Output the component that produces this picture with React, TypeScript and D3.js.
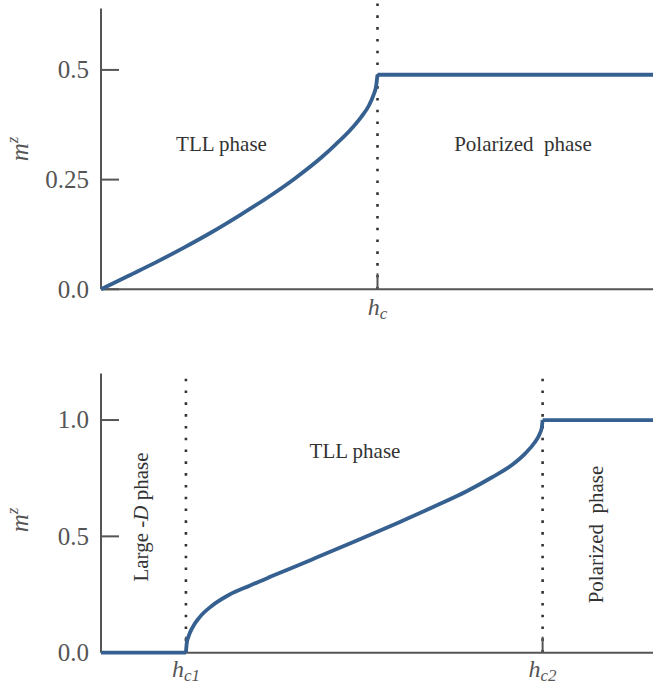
import * as d3 from "d3";
import React from "react";

// top panel: one critical field
const topH = [0, 0.1, 0.2, 0.3, 0.4, 0.5, 0.6, 0.7, 0.8, 0.85, 0.9, 0.94, 0.97, 0.985, 0.995, 1.0];
const topM = [0, 0.031, 0.062, 0.095, 0.13, 0.168, 0.208, 0.252, 0.302, 0.331, 0.362, 0.392, 0.42, 0.442, 0.463, 0.489];
const topHc = 1.0;
const topSat = 0.489;
const topXMax = 2.0;
const topYTicks = [0, 0.25, 0.5];
const topYTickLabels = ["0.0", "0.25", "0.5"];

// bottom panel: large-D, two critical fields
const botH = [1.0, 1.01, 1.03, 1.08, 1.16, 1.3, 1.5, 1.75, 2.0, 2.5, 3.0, 3.5, 4.0, 4.3, 4.6, 4.85, 5.0, 5.1, 5.16, 5.19, 5.2];
const botM = [0, 0.041, 0.069, 0.11, 0.152, 0.2, 0.247, 0.288, 0.327, 0.403, 0.48, 0.559, 0.641, 0.693, 0.753, 0.81, 0.858, 0.9, 0.936, 0.967, 1.0];
const botHc1 = 1.0;
const botHc2 = 5.2;
const botSat = 1.0;
const botXMax = 6.5;
const botYTicks = [0, 0.5, 1.0];
const botYTickLabels = ["0.0", "0.5", "1.0"];

const LINE = "#36608f";
const AXIS = "#555";
const TEXT = "#333";
const FONT = '"Liberation Serif", "DejaVu Serif", serif';

type Pt = [number, number];

const zip = (xs: number[], ys: number[]): Pt[] => xs.map((x, i) => [x, ys[i]]);

const HLabel: React.FC<{ x: number; y: number; sub: string }> = ({ x, y, sub }) => (
  <text x={x} y={y} textAnchor="middle" fontSize={24} fill={AXIS} style={{ fontFamily: FONT }}>
    <tspan fontStyle="italic">h</tspan>
    <tspan fontStyle="italic" fontSize={17} dy={4}>{sub}</tspan>
  </text>
);

const MLabel: React.FC<{ x: number; y: number }> = ({ x, y }) => (
  <text transform={`translate(${x},${y}) rotate(-90)`} textAnchor="middle" fontSize={25} fill={AXIS} style={{ fontFamily: FONT }}>
    <tspan fontStyle="italic">m</tspan>
    <tspan fontStyle="italic" fontSize={17} dy={-10}>z</tspan>
  </text>
);

const App: React.FC = () => {
  const xT = d3.scaleLinear().domain([0, topXMax]).range([101, 654]);
  const yT = d3.scaleLinear().domain([0, 0.64]).range([289.3, 8.5]);
  const xB = d3.scaleLinear().domain([0, botXMax]).range([101, 653]);
  const yB = d3.scaleLinear().domain([0, 1.2]).range([652.7, 373.5]);

  const lineT = d3.line<Pt>().x((d) => xT(d[0])).y((d) => yT(d[1])).curve(d3.curveMonotoneX);
  const flatT = d3.line<Pt>().x((d) => xT(d[0])).y((d) => yT(d[1]));
  const lineB = d3.line<Pt>().x((d) => xB(d[0])).y((d) => yB(d[1])).curve(d3.curveMonotoneX);
  const flatB = d3.line<Pt>().x((d) => xB(d[0])).y((d) => yB(d[1]));

  const dot = { stroke: TEXT, strokeWidth: 2.6, strokeDasharray: "2.6 9.2" };
  const curve = { fill: "none", stroke: LINE, strokeWidth: 3.8, strokeLinejoin: "round" as const };
  const txt = { fontFamily: FONT };

  return (
    <svg width={653} height={684} style={{ position: "absolute", left: 0, top: 0, fontFamily: FONT }}>
      {/* top panel */}
      <line x1={xT(topHc)} x2={xT(topHc)} y1={yT(0)} y2={0} {...dot} />
      <line x1={xT(0)} x2={xT(0)} y1={yT(0)} y2={yT(0.64)} stroke={AXIS} strokeWidth={2} />
      <line x1={xT(0)} x2={653} y1={yT(0)} y2={yT(0)} stroke={AXIS} strokeWidth={2} />
      {topYTicks.map((t, i) => (
        <g key={t}>
          <line x1={xT(0)} x2={xT(0) + 18} y1={yT(t)} y2={yT(t)} stroke={AXIS} strokeWidth={2} />
          <text x={89} y={yT(t)} dy="0.33em" textAnchor="end" fontSize={25} fill={AXIS} style={txt}>
            {topYTickLabels[i]}
          </text>
        </g>
      ))}
      <line x1={xT(topHc)} x2={xT(topHc)} y1={yT(0)} y2={yT(0) - 16} stroke={AXIS} strokeWidth={2} />
      <HLabel x={xT(topHc)} y={315} sub="c" />
      <MLabel x={28} y={149} />
      <path d={lineT(zip(topH, topM)) ?? ""} {...curve} />
      <path d={flatT([[topHc, topSat], [topXMax, topSat]]) ?? ""} {...curve} />
      <text x={221.5} y={151} textAnchor="middle" fontSize={21} fill={TEXT} style={txt}>TLL phase</text>
      <text x={523} y={151} textAnchor="middle" fontSize={21} fill={TEXT} style={{ ...txt, whiteSpace: "pre" }}>
        Polarized  phase
      </text>

      {/* bottom panel */}
      <line x1={xB(botHc1)} x2={xB(botHc1)} y1={yB(0)} y2={yB(1.2)} {...dot} />
      <line x1={xB(botHc2)} x2={xB(botHc2)} y1={yB(0)} y2={yB(1.2)} {...dot} />
      <line x1={xB(0)} x2={xB(0)} y1={yB(0)} y2={yB(1.2)} stroke={AXIS} strokeWidth={2} />
      <line x1={xB(0)} x2={653} y1={yB(0)} y2={yB(0)} stroke={AXIS} strokeWidth={2} />
      {botYTicks.map((t, i) => (
        <g key={t}>
          <line x1={xB(0)} x2={xB(0) + 18} y1={yB(t)} y2={yB(t)} stroke={AXIS} strokeWidth={2} />
          <text x={89} y={yB(t)} dy="0.33em" textAnchor="end" fontSize={25} fill={AXIS} style={txt}>
            {botYTickLabels[i]}
          </text>
        </g>
      ))}
      {[botHc1, botHc2].map((h) => (
        <line key={h} x1={xB(h)} x2={xB(h)} y1={yB(0)} y2={yB(0) - 16} stroke={AXIS} strokeWidth={2} />
      ))}
      <HLabel x={xB(botHc1)} y={677} sub="c1" />
      <HLabel x={xB(botHc2)} y={677} sub="c2" />
      <MLabel x={28} y={520} />
      <path d={flatB([[0, 0], [botHc1, 0]]) ?? ""} {...curve} />
      <path d={lineB(zip(botH, botM)) ?? ""} {...curve} />
      <path d={flatB([[botHc2, botSat], [botXMax, botSat]]) ?? ""} {...curve} />
      <text x={355} y={458} textAnchor="middle" fontSize={21} fill={TEXT} style={txt}>TLL phase</text>
      <text transform="translate(148,517) rotate(-90)" textAnchor="middle" fontSize={21} fill={TEXT} style={{ ...txt, whiteSpace: "pre" }}>
        Large -<tspan fontStyle="italic">D</tspan> phase
      </text>
      <text transform="translate(603,534.5) rotate(-90)" textAnchor="middle" fontSize={21} fill={TEXT} style={{ ...txt, whiteSpace: "pre" }}>
        Polarized  phase
      </text>
    </svg>
  );
};

export default App;
